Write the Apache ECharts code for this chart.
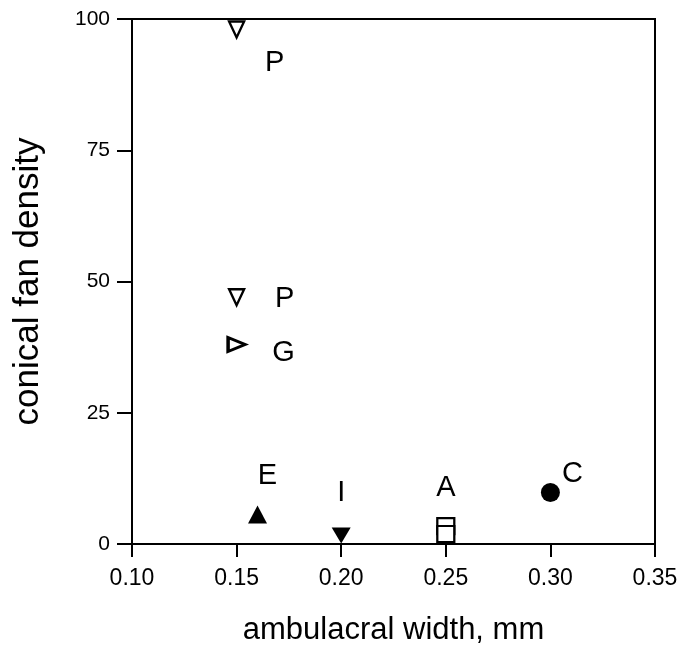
<!DOCTYPE html>
<html>
<head>
<meta charset="utf-8">
<script src="https://cdn.jsdelivr.net/npm/echarts@6/dist/echarts.min.js"></script>
<style>html,body{margin:0;padding:0;background:#fff;}#c{width:681px;height:651px;}</style>
</head>
<body>
<div id="c"></div>
<script>
// Data
const categories = ['P', 'P', 'G', 'E', 'I', 'A', 'A', 'C'];
const ambulacralWidth = [0.15, 0.15, 0.15, 0.16, 0.20, 0.25, 0.25, 0.30];
const fanDensity = [98, 47, 38, 5.6, 1.6, 3.4, 1.9, 9.8];
const xTicks = [0.10, 0.15, 0.20, 0.25, 0.30, 0.35];
const yTicks = [0, 25, 50, 75, 100];

// Marker style per point (style, not data)
const markerStyle = [
  {symbol: 'triangle', rotate: 180, size: [15, 16], hollow: true, bw: 2.4},
  {symbol: 'triangle', rotate: 180, size: [15, 16], hollow: true, bw: 2.4},
  {symbol: 'triangle', rotate: -90, size: [14, 17], hollow: true, bw: 3.2},
  {symbol: 'triangle', rotate: 0, size: [19, 18], hollow: false, bw: 0},
  {symbol: 'triangle', rotate: 180, size: [19, 16], hollow: false, bw: 0},
  {symbol: 'rect', rotate: 0, size: [17, 16], hollow: true, bw: 2.2},
  {symbol: 'rect', rotate: 0, size: [17, 16], hollow: true, bw: 2.2},
  {symbol: 'circle', rotate: 0, size: 19, hollow: false, bw: 0}
];
const labelShow = [true, true, true, true, true, false, true, true];
const labelOffset = [[38, 33], [48, 2], [47, 8], [10, -39], [0, -43], [0, -40], [0, -46], [22, -19]];

const font = 'Liberation Sans, Arial, Helvetica, sans-serif';

const series = categories.map((cat, i) => {
  const m = markerStyle[i];
  return {
    type: 'scatter',
    data: [[ambulacralWidth[i], fanDensity[i]]],
    symbol: m.symbol,
    symbolSize: m.size,
    symbolRotate: m.rotate,
    itemStyle: m.hollow ? {color: '#fff', borderColor: '#000', borderWidth: m.bw, opacity: 1}
                        : {color: '#000', borderColor: '#000', borderWidth: 0, opacity: 1},
    label: {
      show: labelShow[i],
      formatter: cat,
      position: 'inside',
      offset: labelOffset[i],
      color: '#000',
      opacity: 1,
      fontSize: 29,
      fontFamily: font
    },
    emphasis: {disabled: true},
    z: 3 + i
  };
});

const chart = echarts.init(document.getElementById('c'), null, {renderer: 'canvas'});
chart.setOption({
  animation: false,
  backgroundColor: '#fff',
  grid: {left: 132, right: 26, top: 19, bottom: 107, show: true, borderColor: '#000', borderWidth: 2, backgroundColor: 'transparent'},
  xAxis: {
    type: 'value',
    min: xTicks[0], max: xTicks[xTicks.length - 1], interval: 0.05,
    name: 'ambulacral width, mm',
    nameLocation: 'middle', nameGap: 71,
    nameTextStyle: {color: '#000', fontSize: 31, fontFamily: font},
    axisLine: {show: true, onZero: false, lineStyle: {color: '#000', width: 2}},
    axisTick: {show: true, inside: false, length: 13, lineStyle: {color: '#000', width: 2}},
    axisLabel: {color: '#000', fontSize: 23, fontFamily: font, margin: 23,
      formatter: v => v.toFixed(2)},
    splitLine: {show: false}
  },
  yAxis: {
    type: 'value',
    min: yTicks[0], max: yTicks[yTicks.length - 1], interval: 25,
    name: 'conical fan density',
    nameLocation: 'middle', nameGap: 86,
    nameTextStyle: {color: '#000', fontSize: 35, fontFamily: font},
    axisLine: {show: true, onZero: false, lineStyle: {color: '#000', width: 2}},
    axisTick: {show: true, inside: false, length: 15, lineStyle: {color: '#000', width: 2}},
    axisLabel: {color: '#000', fontSize: 21, fontFamily: font, margin: 22, padding: [5, 0, 0, 0]},
    splitLine: {show: false}
  },
  series: series
});
</script>
</body>
</html>
